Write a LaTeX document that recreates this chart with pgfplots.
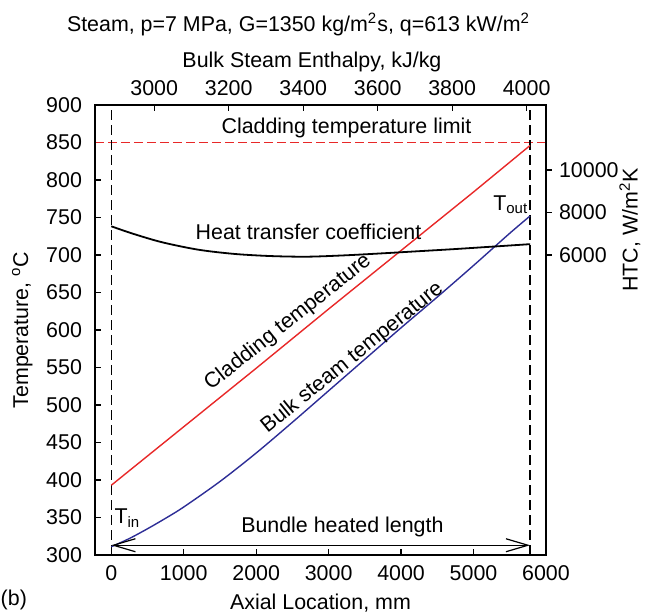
\documentclass[border=0pt]{standalone}
\usepackage{fontspec}
\setmainfont{Liberation Sans}
\usepackage{pgfplots}
\pgfplotsset{compat=1.18}
\usetikzlibrary{arrows.meta}

\definecolor{cladred}{RGB}{232,40,40}
\definecolor{steamblue}{RGB}{45,45,150}

\newcommand{\chartfont}{\fontsize{10.7}{12.8}\selectfont}

% Axial location (mm) vs. temperature (deg C)
\pgfplotstableread{
z     T
0     311
250   322
500   335
750   349
1000  364
1500  398
2000  436
2500  477
3000  519
3500  561
4000  603
4500  644
5000  686
5500  729
5780  752
}\bulksteam

\pgfplotstableread{
z     T
0     393
1000  471
2000  549
3000  628
4000  706
5000  784
5780  846
}\cladding

% Axial location (mm) vs. HTC (W/m^2K)
\pgfplotstableread{
z     h
0     7350
300   7000
700   6600
1200  6250
1700  6050
2200  5950
2700  5920
3200  5980
3700  6070
4200  6170
4700  6270
5200  6380
5780  6510
}\htc

\begin{document}
\begin{tikzpicture}[font=\chartfont]
\useasboundingbox (-47.5pt,-30pt) rectangle (277pt,277.5pt);
\pgfplotsset{
  every axis/.append style={
    scale only axis, width=225.5pt, height=225pt,
    at={(0pt,0pt)}, anchor=south west,
    /pgf/number format/assume math mode=true,
    /pgf/number format/1000 sep={},
    scaled ticks=false,
    tick label style={font=\chartfont},
    label style={font=\chartfont},
    axis line style={line width=0.75pt},
    major tick length=3pt,
    tick style={line width=0.6pt, black},
    minor tick num=0,
  },
  guide/.style={black, line width=0.6pt, dash pattern=on 5pt off 2.5pt},
}

% Main axis: temperatures along the bundle
\begin{axis}[
  xmin=-225, xmax=6000, ymin=300, ymax=900,
  xtick={0,1000,...,6000}, ytick={300,350,...,900},
  xtick pos=bottom, ytick pos=left, tick align=inside,
  yticklabel style={xshift=-3pt},
  xticklabel style={yshift=-1.5pt},
  xlabel={Axial Location, mm},
  ylabel={Temperature, \textsuperscript{o}C},
  clip=false,
]
\addplot[cladred, line width=0.6pt, dash pattern=on 4.5pt off 2pt] coordinates {(-225,850) (6000,850)};
\addplot[guide] coordinates {(0,300) (0,900)};
\addplot[guide] coordinates {(5780,300) (5780,900)};
\addplot[cladred, line width=0.7pt] table[x=z, y=T] {\cladding};
\addplot[steamblue, line width=0.7pt, smooth] table[x=z, y=T] {\bulksteam};
\addplot[black, line width=0.6pt,
  {Straight Barb[length=11pt,width=6.5pt]}-{Straight Barb[length=11pt,width=6.5pt]}]
  coordinates {(0,313) (5780,313)};

\node at (axis cs:3246,869) {Cladding temperature limit};
\node at (axis cs:2722,731) {Heat transfer coefficient};
\node[rotate=38.5] at (axis cs:2440,610) {Cladding temperature};
\node[rotate=39] at (axis cs:3329,563) {Bulk steam temperature};
\node at (axis cs:3190,337) {Bundle heated length};
\node[anchor=west, inner sep=0pt] at (axis cs:40,349) {T\textsubscript{in}};
\node[anchor=east, inner sep=0pt] at (axis cs:5760,767) {T\textsubscript{out}};

\node at (rel axis cs:0.4512,1.178) {Steam, p=7 MPa, G=1350 kg/m\textsuperscript{2}s, q=613 kW/m\textsuperscript{2}};
\node at (rel axis cs:0.481,1.0956) {Bulk Steam Enthalpy, kJ/kg};
\node at (rel axis cs:-0.18,-0.1) {(b)};
\node[rotate=90] at (rel axis cs:1.186,0.722) {HTC, W/m\textsuperscript{2}K};
\end{axis}

% Right axis: heat transfer coefficient
\begin{axis}[
  xmin=-225, xmax=6000, ymin=-8118, ymax=13059,
  hide x axis,
  ytick={6000,8000,10000},
  ytick pos=right, yticklabel pos=right, tick align=outside,
]
\addplot[black, line width=0.9pt, smooth] table[x=z, y=h] {\htc};
\end{axis}

% Top axis: bulk steam enthalpy
\begin{axis}[
  xmin=2841, xmax=4052, ymin=0, ymax=1,
  hide y axis,
  xtick={3000,3200,...,4000},
  xtick pos=top, xticklabel pos=top, tick align=inside,
  xticklabel style={yshift=1pt},
]
\end{axis}
\end{tikzpicture}
\end{document}
